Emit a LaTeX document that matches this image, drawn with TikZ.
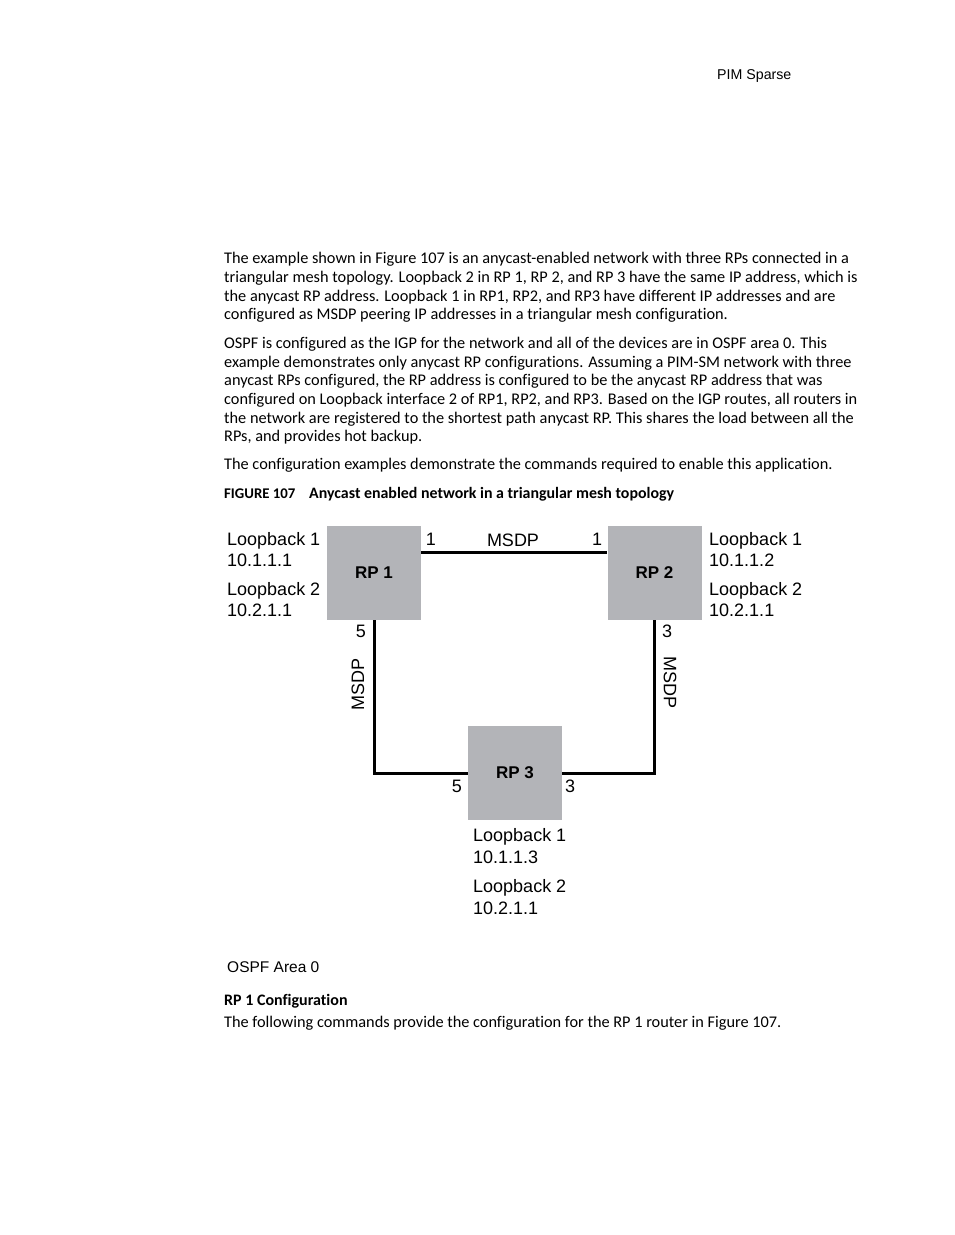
\documentclass[tikz,border=0pt]{standalone}
\usepackage{fontspec}
\setmainfont{Carlito}[Ligatures=NoCommon]
\newfontfamily\diagfont{Liberation Sans}
\usetikzlibrary{positioning}

\definecolor{rpgray}{RGB}{179,180,184}

\tikzset{
    rpbox/.style={draw=none, fill=rpgray, minimum width=94pt, minimum height=94pt,
        inner sep=0pt, font=\diagfont\bfseries\fontsize{17}{19}\selectfont},
    link/.style={line width=3pt},
    lbl/.style={inner sep=0pt, font=\diagfont\fontsize{18}{21}\selectfont},
    body/.style={anchor=base west, inner sep=0pt, font=\fontsize{16.3}{19}\selectfont}
}

\begin{document}
\begin{tikzpicture}[x=1pt, y=-1pt]
    \useasboundingbox (0,0) rectangle (954,1235);

    % Running header
    \node[anchor=base west, inner sep=0pt, font=\diagfont\fontsize{14.2}{16}\selectfont] (header) at (717,79) {PIM Sparse};

    % Body text
    \foreach \yy/\txt in {
        263/{The example shown in Figure 107 is an anycast-enabled network with three RPs connected in a},
        282/{triangular mesh topology. Loopback 2 in RP 1, RP 2, and RP 3 have the same IP address, which is},
        301/{the anycast RP address. Loopback 1 in RP1, RP2, and RP3 have different IP addresses and are},
        319/{configured as MSDP peering IP addresses in a triangular mesh configuration.},
        348/{OSPF is configured as the IGP for the network and all of the devices are in OSPF area 0. This},
        367/{example demonstrates only anycast RP configurations. Assuming a PIM-SM network with three},
        385/{anycast RPs configured, the RP address is configured to be the anycast RP address that was},
        404/{configured on Loopback interface 2 of RP1, RP2, and RP3. Based on the IGP routes, all routers in},
        423/{the network are registered to the shortest path anycast RP. This shares the load between all the},
        441/{RPs, and provides hot backup.},
        469/{The configuration examples demonstrate the commands required to enable this application.}}
        \node[body] at (224,\yy) {\txt};

    % Caption
    \node[body, font=\bfseries\fontsize{14.8}{18}\selectfont] (figno) at (224,498) {FIGURE 107};
    \node[body, font=\bfseries\fontsize{15.9}{18}\selectfont] (figcap) at (309,498) {Anycast enabled network in a triangular mesh topology};

    % Routers
    \node[rpbox] (rp1) at (374,573) {RP 1};
    \node[rpbox] (rp2) at (654.5,573) {RP 2};
    \node[rpbox] (rp3) at (515,773) {RP 3};

    % MSDP links
    \draw[link] ([yshift=21pt]rp1.east) -- ([yshift=21pt]rp2.west);
    \draw[link] (rp1.south) |- (rp3.west);
    \draw[link] (rp2.south) |- (rp3.east);

    % Link labels
    \node[lbl] (msdp12) at (513,540) {MSDP};
    \node[lbl, rotate=90] (msdp13) at (358,684) {MSDP};
    \node[lbl, rotate=-90] (msdp23) at (670,682) {MSDP};
    \node[lbl] (p1a) at (431,539) {1};
    \node[lbl] (p2a) at (597,539) {1};
    \node[lbl] (p1b) at (361,631) {5};
    \node[lbl] (p2b) at (667,631) {3};
    \node[lbl] (p3a) at (457,786) {5};
    \node[lbl] (p3b) at (570,786) {3};

    % Loopback addresses
    \foreach \xx/\yy/\txt/\nm in {
        227/545/Loopback 1/lbA1, 227/566/10.1.1.1/ipA1, 227/595/Loopback 2/lbA2, 227/616/10.2.1.1/ipA2,
        709/545/Loopback 1/lbB1, 709/566/10.1.1.2/ipB1, 709/595/Loopback 2/lbB2, 709/616/10.2.1.1/ipB2,
        473/841/Loopback 1/lbC1, 473/863/10.1.1.3/ipC1, 473/892/Loopback 2/lbC2, 473/914/10.2.1.1/ipC2}
        \node[lbl, anchor=base west] (\nm) at (\xx,\yy) {\txt};

    \node[lbl, anchor=base west, font=\diagfont\fontsize{15.5}{18}\selectfont] (area) at (227,972.5) {OSPF Area 0};

    % Next section
    \node[body, font=\bfseries\fontsize{16}{18}\selectfont] (sect) at (224,1005) {RP 1 Configuration};
    \node[body] (follow) at (224,1027) {The following commands provide the configuration for the RP 1 router in Figure 107.};
\end{tikzpicture}
\end{document}
